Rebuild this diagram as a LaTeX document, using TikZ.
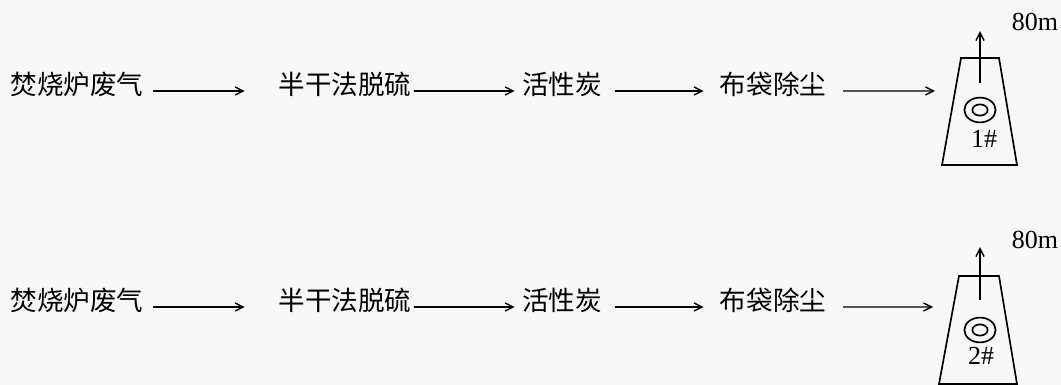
\documentclass[tikz,border=0pt]{standalone}
\usepackage{fontspec}
\setmainfont{Liberation Serif}
\newfontfamily\cjk{Noto Sans CJK SC}
\usetikzlibrary{arrows.meta}

\begin{document}
\begin{tikzpicture}[
	proc/.style = {inner sep = 0, font = \cjk\fontsize{18.9}{22}\selectfont},
	flow/.style = {line width = 1pt, -{Straight Barb[length = 2mm, width = 2mm]}},
	stack/.style = {line width = 1.2pt, line join = miter},
	tag/.style = {inner sep = 0, font = \fontsize{18.5}{21}\selectfont}
	]
	\fill[black!3] (0,0) rectangle (26.525,-9.625);
	\useasboundingbox (0,0) rectangle (26.525,-9.625);
	% first line
	\node[proc] (gas1) at (1.925,-2.1) {焚烧炉废气};
	\node[proc] (desulf1) at (8.625,-2.1) {半干法脱硫};
	\node[proc] (carbon1) at (14.05,-2.1) {活性炭};
	\node[proc] (bag1) at (19.325,-2.1) {布袋除尘};
	\coordinate (in1) at (23.375,-2.275);
	\draw[flow, shorten <= 0.24cm, shorten >= 0.84cm] ([yshift = -0.175cm]gas1.east) -- ([yshift = -0.175cm]desulf1.west);
	\draw[flow, shorten <= 0.05cm, shorten >= 0.18cm] ([yshift = -0.175cm]desulf1.east) -- ([yshift = -0.175cm]carbon1.west);
	\draw[flow, shorten <= 0.33cm, shorten >= 0.4cm] ([yshift = -0.175cm]carbon1.east) -- ([yshift = -0.175cm]bag1.west);
	\draw[flow, shorten <= 0.42cm] ([yshift = -0.175cm]bag1.east) -- (in1);
	\draw[stack] (24.025,-1.45) -- (24.975,-1.45) -- (25.425,-4.125) -- (23.55,-4.125) -- cycle;
	\draw[flow] (24.5,-2.075) -- (24.5,-0.775);
	\draw[stack] (24.5,-2.75) ellipse [x radius = 0.39, y radius = 0.31];
	\draw[stack] (24.5,-2.75) ellipse [x radius = 0.19, y radius = 0.14];
	\node[tag] (no1) at (24.6,-3.475) {1\#};
	\node[tag] (h1) at (25.875,-0.55) {80m};
	% second line
	\node[proc] (gas2) at (1.925,-7.5) {焚烧炉废气};
	\node[proc] (desulf2) at (8.625,-7.5) {半干法脱硫};
	\node[proc] (carbon2) at (14.05,-7.5) {活性炭};
	\node[proc] (bag2) at (19.325,-7.5) {布袋除尘};
	\coordinate (in2) at (23.325,-7.675);
	\draw[flow, shorten <= 0.24cm, shorten >= 0.84cm] ([yshift = -0.175cm]gas2.east) -- ([yshift = -0.175cm]desulf2.west);
	\draw[flow, shorten <= 0.05cm, shorten >= 0.18cm] ([yshift = -0.175cm]desulf2.east) -- ([yshift = -0.175cm]carbon2.west);
	\draw[flow, shorten <= 0.33cm, shorten >= 0.4cm] ([yshift = -0.175cm]carbon2.east) -- ([yshift = -0.175cm]bag2.west);
	\draw[flow, shorten <= 0.42cm] ([yshift = -0.175cm]bag2.east) -- (in2);
	\draw[stack] (23.975,-6.9) -- (24.975,-6.9) -- (25.425,-9.6) -- (23.475,-9.6) -- cycle;
	\draw[flow] (24.5,-7.5) -- (24.5,-6.175);
	\draw[stack] (24.5,-8.25) ellipse [x radius = 0.39, y radius = 0.31];
	\draw[stack] (24.5,-8.25) ellipse [x radius = 0.19, y radius = 0.14];
	\node[tag] (no2) at (24.525,-8.9) {2\#};
	\node[tag] (h2) at (25.875,-6.0) {80m};
\end{tikzpicture}
\end{document}
